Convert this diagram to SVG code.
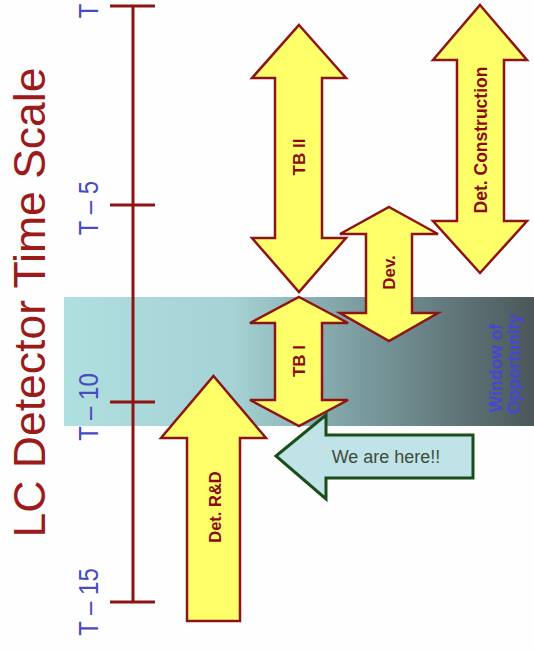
<svg xmlns="http://www.w3.org/2000/svg" width="534" height="651" viewBox="0 0 534 651">
<defs>
<linearGradient id="band" x1="64" y1="0" x2="534" y2="0" gradientUnits="userSpaceOnUse">
<stop offset="0" stop-color="#b0dfe0"/>
<stop offset="0.36" stop-color="#a5d2d4"/>
<stop offset="0.62" stop-color="#7c9ea1"/>
<stop offset="1" stop-color="#4b575a"/>
</linearGradient>
<style>
.ylw{fill:#ffff6a;stroke:#8e1414;stroke-width:2.5;stroke-linejoin:miter}
.axis{stroke:#8e1414;stroke-width:3;fill:none}
.tick{font-family:"Liberation Sans",Arial,sans-serif;font-size:24px;fill:#4a4ac0;text-anchor:middle}
.lbl{font-family:"Liberation Sans",Arial,sans-serif;font-weight:bold;font-size:17px;fill:#8b0a0a;text-anchor:middle}
.title{font-family:"Liberation Sans",Arial,sans-serif;font-size:44.5px;fill:#9b1a1a;text-anchor:middle}
.win{font-family:"Liberation Sans",Arial,sans-serif;font-weight:bold;font-size:17.5px;fill:#4646d2;text-anchor:middle}
</style>
</defs>
<rect x="0" y="0" width="534" height="651" fill="#fefefe"/>
<g id="window">
<rect x="64" y="297" width="470" height="129" fill="url(#band)"/>
<text class="win" transform="translate(502,368) rotate(-90)">Window of</text>
<text class="win" transform="translate(520,364) rotate(-90)">Opportunity</text>
</g>
<g id="title">
<text class="title" transform="translate(45,302.5) rotate(-90)">LC Detector Time Scale</text>
</g>
<g id="timescale">
<path class="axis" d="M133,6 V602 M110,6 H155 M110,205 H155 M110,402 H155 M110,602 H155"/>
<text class="tick" transform="translate(98,11) rotate(-90) scale(1,1.15)">T</text>
<text class="tick" transform="translate(98,208) rotate(-90) scale(1,1.15)">T – 5</text>
<text class="tick" transform="translate(98,407) rotate(-90) scale(1,1.15)">T – 10</text>
<text class="tick" transform="translate(98,602) rotate(-90) scale(1,1.15)">T – 15</text>
</g>
<g id="tb2">
<path class="ylw" d="M299,25 L346,78 L322,78 L322,238 L346,238 L299,292 L252,238 L275,238 L275,78 L252,78 Z"/>
<text class="lbl" transform="translate(305,157) rotate(-90)">TB II</text>
</g>
<g id="detconstruction">
<path class="ylw" d="M480,5 L527,60 L504,60 L504,221 L527,221 L480,273 L433,221 L457,221 L457,60 L433,60 Z"/>
<text class="lbl" style="font-size:17.5px" transform="translate(487,140) rotate(-90)">Det. Construction</text>
</g>
<g id="dev">
<path class="ylw" d="M389,207 L438,234 L412,234 L412,313 L438,313 L389,341 L340,313 L366,313 L366,234 L340,234 Z"/>
<text class="lbl" transform="translate(395,272.5) rotate(-90)">Dev.</text>
</g>
<g id="tb1">
<path class="ylw" d="M299,297 L348,323 L322,323 L322,400 L348,400 L299,426 L250,400 L275,400 L275,323 L250,323 Z"/>
<text class="lbl" transform="translate(305,361) rotate(-90)">TB I</text>
</g>
<g id="detrd">
<path class="ylw" d="M213.5,376 L266,438 L240,438 L240,621 L187,621 L187,438 L161,438 Z"/>
<text class="lbl" style="font-size:16.5px" transform="translate(221,507) rotate(-90)">Det. R&amp;D</text>
</g>
<g id="wearehere">
<path d="M276,456 L326,415 L326,435 L473,435 L473,478 L326,478 L326,499 Z" fill="#bfe3e6" stroke="#1b4d1b" stroke-width="3" stroke-linejoin="miter"/>
<text x="386" y="463" font-family="'Liberation Sans',Arial,sans-serif" font-size="18" fill="#3d4d3d" text-anchor="middle">We are here!!</text>
</g>
</svg>
